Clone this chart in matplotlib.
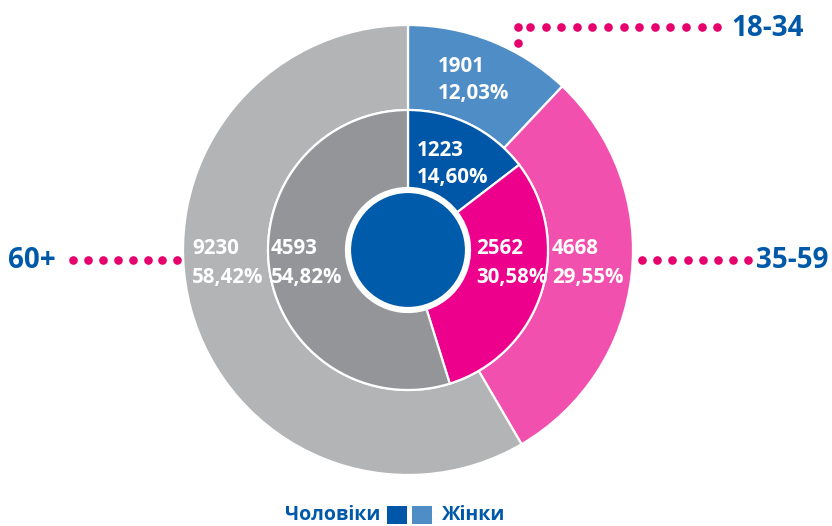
import numpy as np
import matplotlib.pyplot as plt
from matplotlib.patches import Circle, Rectangle

plt.rcParams['font.family'] = ['Open Sans', 'DejaVu Sans']

# ─── Data ────────────────────────────────────────────────────────────────
ages = ['18-34', '35-59', '60+']
women = [1901, 4668, 9230]
women_pct = ['12,03%', '29,55%', '58,42%']
men = [1223, 2562, 4593]
men_pct = ['14,60%', '30,58%', '54,82%']

# ─── Colors ──────────────────────────────────────────────────────────────
WOMEN_COLORS = ['#4F8DC6', '#F250AE', '#B3B4B6']
MEN_COLORS = ['#0057A8', '#EC008C', '#939598']
CENTER = '#005BAA'
BLUE_TEXT = '#0059A8'
DOT = '#E6006E'

W, H = 832, 526
fig = plt.figure(figsize=(W / 100, H / 100), dpi=100)
ax = fig.add_axes([0, 0, 1, 1])


def py(y):
    # pixel row (from top) -> data y
    return H - y


cx, cy = 408, py(250)
R_OUT, R_MID, R_IN = 225, 140, 62

wedge_kw = dict(edgecolor='white', linewidth=1.6)
ax.pie(women, radius=R_OUT, center=(cx, cy), startangle=90, counterclock=False,
       colors=WOMEN_COLORS, wedgeprops=dict(width=R_OUT - R_MID, **wedge_kw))
ax.pie(men, radius=R_MID, center=(cx, cy), startangle=90, counterclock=False,
       colors=MEN_COLORS, wedgeprops=dict(width=R_MID - R_IN, **wedge_kw))
ax.add_patch(Circle((cx, cy), 59, facecolor=CENTER, edgecolor='white', lw=3, zorder=5))

ax.set_xlim(0, W)
ax.set_ylim(0, H)
ax.set_aspect('equal')
ax.axis('off')

# ─── Value labels ────────────────────────────────────────────────────────
lab_kw = dict(color='white', fontsize=14.8, fontweight='bold', ha='left', va='center')
outer_pos = [(438, 66), (552, 249), (192, 249)]
inner_pos = [(417, 150), (476, 249), (271, 249)]
for (x, y), v, p in zip(outer_pos, women, women_pct):
    ax.text(x, py(y), str(v), **lab_kw)
    ax.text(x, py(y + 28), p, **lab_kw)
for (x, y), v, p in zip(inner_pos, men, men_pct):
    ax.text(x, py(y), str(v), **lab_kw)
    ax.text(x, py(y + 28), p, **lab_kw)

# ─── Dotted leaders + age labels ─────────────────────────────────────────
dot_kw = dict(marker='o', ls='none', ms=6.2, color=DOT, mec='none')
xs = np.arange(530, 722, 15.6)
ax.plot(np.r_[518, xs], py(np.full(len(xs) + 1, 27.0)), **dot_kw)
ax.plot([518], [py(43)], **dot_kw)
ax.plot(np.arange(642, 750, 15.2)[:8], py(np.full(8, 260.0)), **dot_kw)
ax.plot(np.arange(73, 180, 14.9)[:8], py(np.full(8, 260.0)), **dot_kw)

age_kw = dict(color=BLUE_TEXT, fontsize=20, fontweight='bold', va='center')
ax.text(731, py(28), ages[0], ha='left', **age_kw)
ax.text(756, py(260), ages[1], ha='left', **age_kw)
ax.text(8, py(260), ages[2], ha='left', **age_kw)

# cut-off title fragment at the top edge
ax.text(105, py(-8), 'Д', color=BLUE_TEXT, fontsize=20, fontweight='bold',
        ha='center', va='baseline')

# ─── Legend ──────────────────────────────────────────────────────────────
leg_kw = dict(color=BLUE_TEXT, fontsize=14, fontweight='bold', va='center')
ax.text(380, py(515), 'Чоловіки', ha='right', **leg_kw)
ax.add_patch(Rectangle((387, py(524)), 20, 18, facecolor=MEN_COLORS[0], edgecolor='none'))
ax.add_patch(Rectangle((412, py(524)), 20, 18, facecolor=WOMEN_COLORS[0], edgecolor='none'))
ax.text(442, py(515), 'Жінки', ha='left', **leg_kw)

fig.savefig('out.png', dpi=100)
